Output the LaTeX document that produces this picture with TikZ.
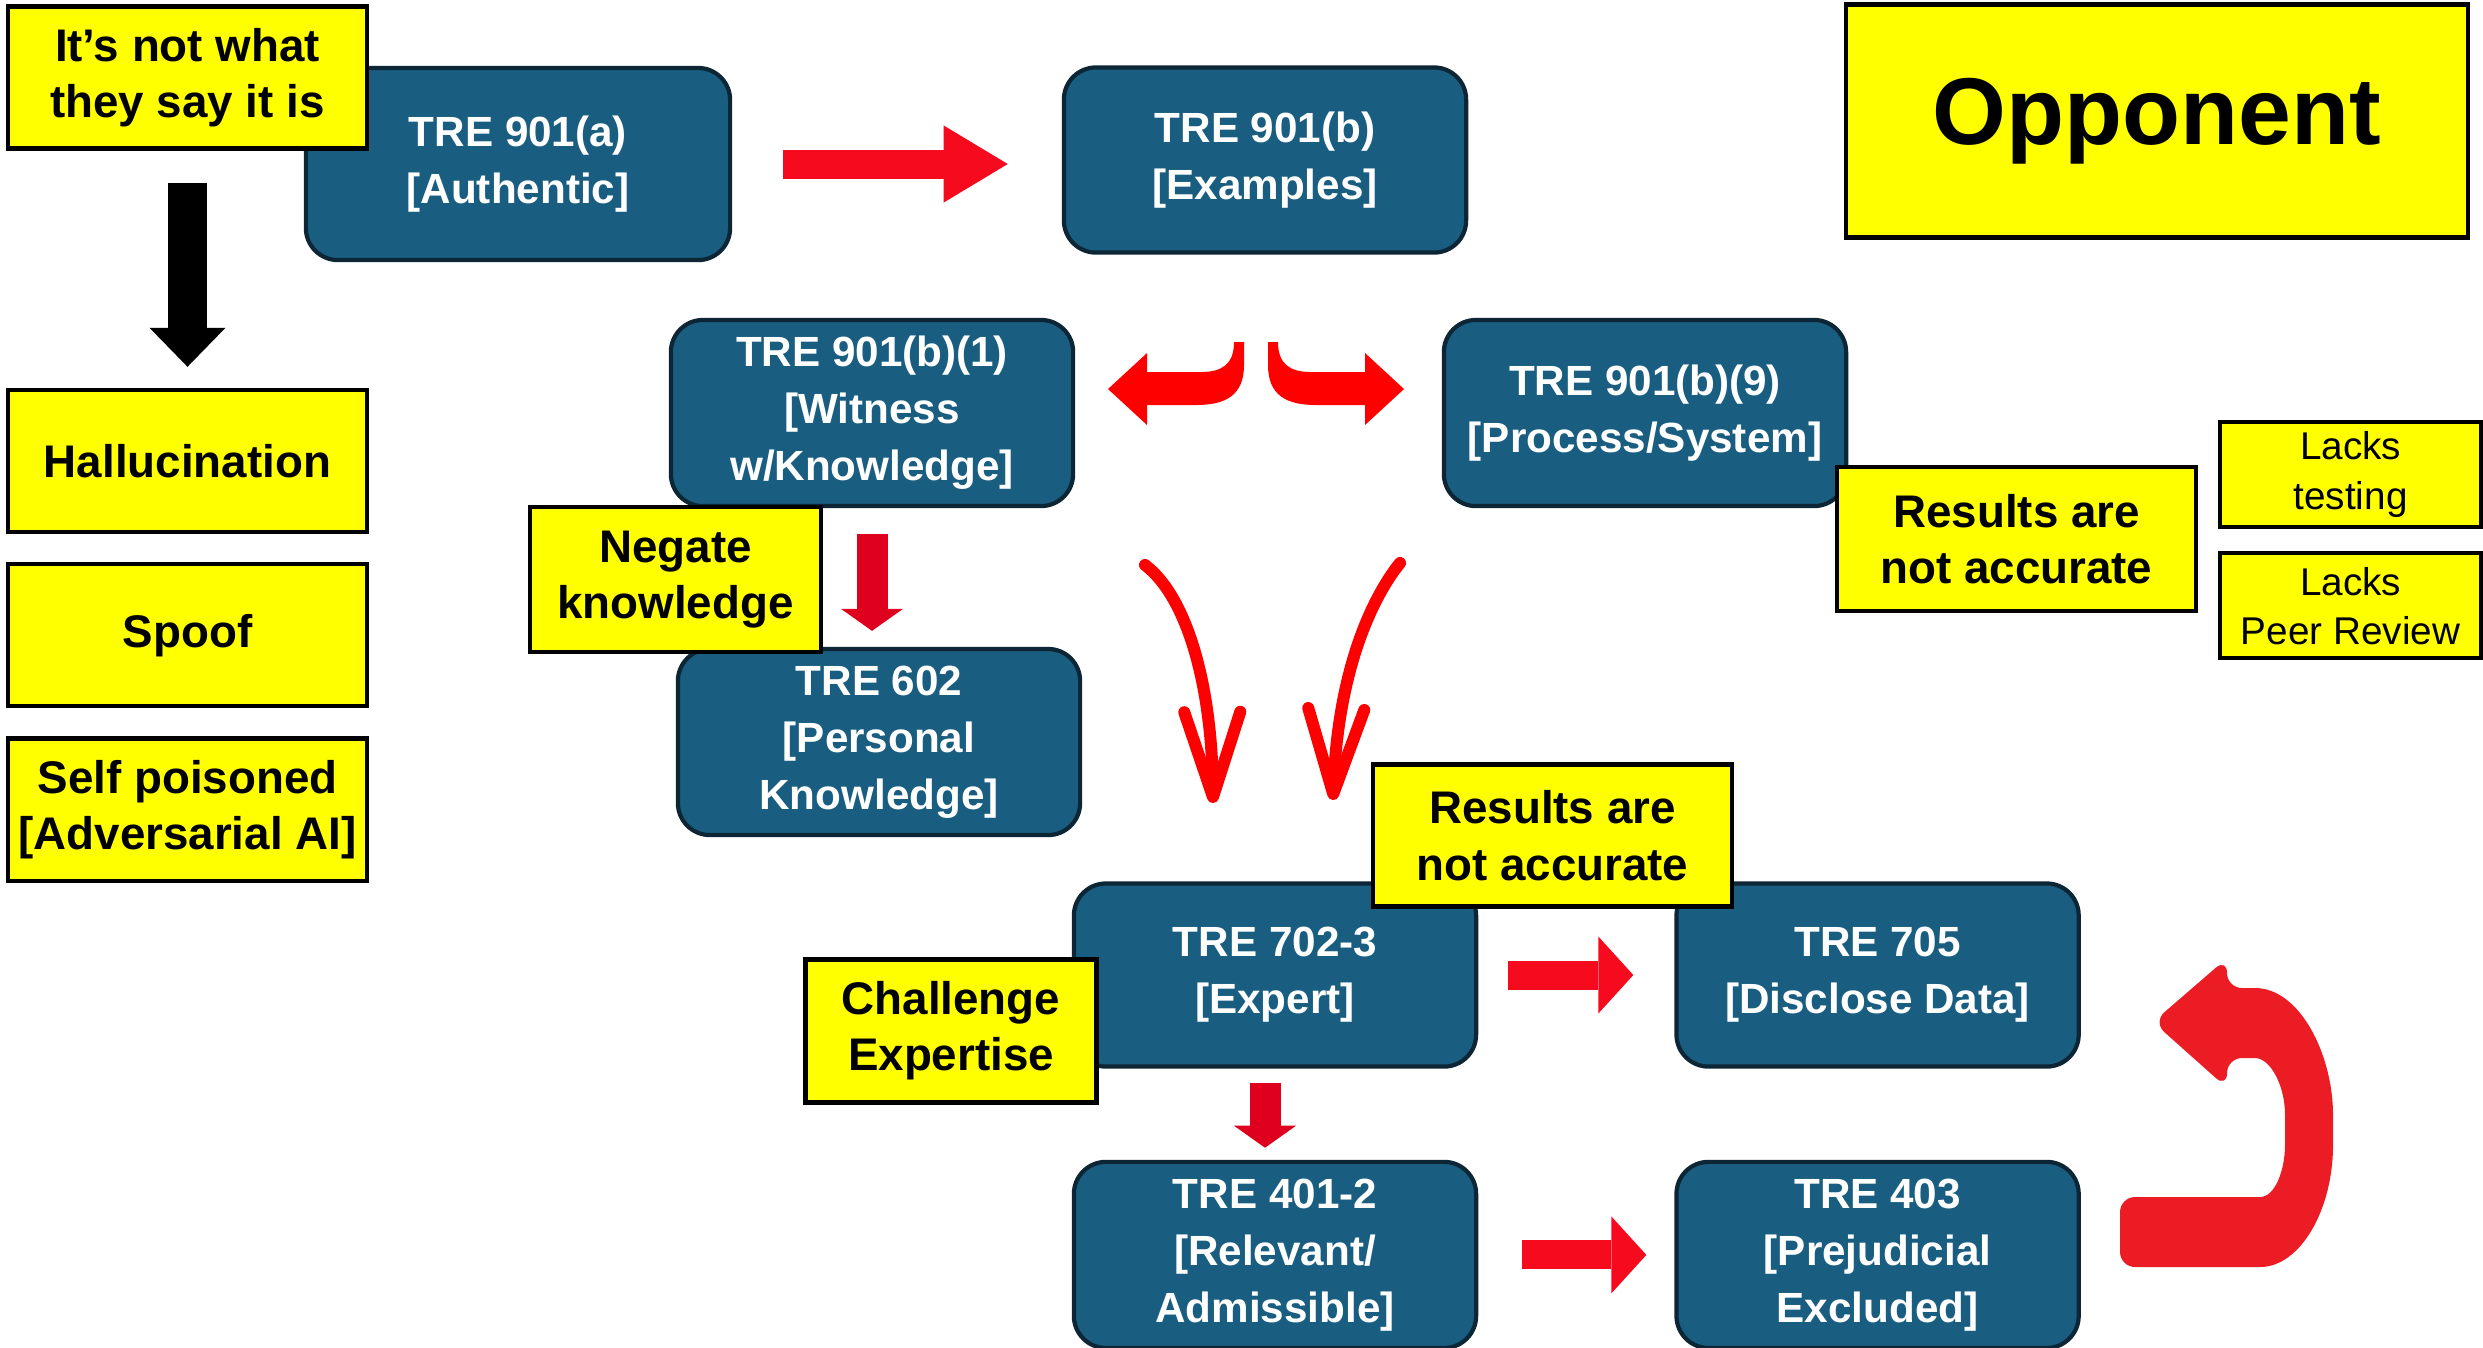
\documentclass[tikz,border=0pt]{standalone}
\usepackage{fontspec}
\setmainfont{Liberation Sans}
\usetikzlibrary{positioning,arrows.meta}
\definecolor{boxblue}{RGB}{25,94,128}
\definecolor{boxedge}{RGB}{12,38,54}
\definecolor{signyellow}{RGB}{255,255,0}
\definecolor{flowred}{RGB}{245,10,30}
\definecolor{dropred}{RGB}{222,0,28}
\definecolor{turnred}{RGB}{236,28,36}
\tikzset{
  trebox/.style={draw=boxedge, fill=boxblue, rounded corners=3.2mm, line width=1.2pt,
                 text=white, align=center, font=\bfseries\fontsize{12}{16.2}\selectfont,
                 minimum width=4.02cm, minimum height=1.86cm, inner sep=2pt},
  yellowbox/.style={draw=black, fill=signyellow, line width=1.2pt, align=center,
                    font=\bfseries\fontsize{13}{16}\selectfont,
                    minimum width=3.59cm, minimum height=1.42cm, inner sep=1pt},
  smallyellow/.style={yellowbox, font=\fontsize{11}{14}\selectfont,
                      minimum width=2.61cm, minimum height=1.05cm},
  flowarrow/.style={draw=flowred, line width=2.9mm,
                    -{Triangle[length=#1, width=7.7mm, line width=0pt]}},
  flowarrow/.default=3.5mm,
  dropflow/.style={draw=dropred, line width=3.1mm,
                   -{Triangle[length=2.2mm, width=6.2mm, line width=0pt]}},
  blackdrop/.style={draw=black, line width=3.8mm,
                    -{Triangle[length=3.9mm, width=7.6mm, line width=0pt]}},
  handarrow/.style={draw=red, line width=1.2mm, line cap=round,
                    -{Straight Barb[length=8.5mm, width=5.6mm, round]}},
}
\begin{document}
\begin{tikzpicture}[x=0.01cm, y=-0.01cm, node distance=2.8mm]
  \useasboundingbox (0,0) rectangle (2483,1347);
  % rule boxes
  \node[trebox, minimum width=4.24cm, minimum height=1.92cm] (a901) at (518,164) {TRE 901(a)\\{}[Authentic]};
  \node[trebox, minimum height=1.85cm] (b901) at (1265,160) {TRE 901(b)\\{}[Examples]};
  \node[trebox] (b1) at (872,413) {TRE 901(b)(1)\\{}[Witness\\w/Knowledge]};
  \node[trebox] (b9) at (1645,413) {TRE 901(b)(9)\\{}[Process/System]};
  \node[trebox] (p602) at (879,742) {TRE 602\\{}[Personal\\Knowledge]};
  \node[trebox, minimum height=1.83cm] (e702) at (1275,975) {TRE 702-3\\{}[Expert]};
  \node[trebox, minimum height=1.83cm, right=1.96cm of e702] (d705) {TRE 705\\{}[Disclose Data]};
  \node[trebox, below=0.91cm of e702] (r401) {TRE 401-2\\{}[Relevant/\\Admissible]};
  \node[trebox, right=1.96cm of r401] (x403) {TRE 403\\{}[Prejudicial\\Excluded]};

  % yellow notes
  \node[yellowbox] (notwhat) at (187.5,77.5) {It’s not what\\they say it is};
  \node[yellowbox, below=2.37cm of notwhat] (halluc) {Hallucination};
  \node[yellowbox, below=of halluc] (spoof) {Spoof};
  \node[yellowbox, below=of spoof] (selfp) {Self poisoned\\{}[Adversarial AI]};
  \node[yellowbox, minimum width=2.91cm, minimum height=1.45cm] (negate) at (675.5,579.5) {Negate\\knowledge};
  \node[yellowbox, minimum width=6.22cm, minimum height=2.33cm,
        font=\bfseries\fontsize{27}{32}\selectfont] (opp) at (2157,121) {Opponent};
  \node[yellowbox, minimum height=1.44cm] (resR) at (2016.5,539) {Results are\\not accurate};
  \node[smallyellow] (lackT) at (2350.5,474.5) {Lacks\\testing};
  \node[smallyellow, below=2.2mm of lackT] (lackP) {Lacks\\Peer Review};
  \node[yellowbox] (resM) at (1552.5,835.5) {Results are\\not accurate};
  \node[yellowbox, minimum width=2.91cm, minimum height=1.43cm] (challenge) at (951,1031) {Challenge\\Expertise};

  % straight arrows
  \draw[blackdrop, shorten <=3.2mm, shorten >=2.1mm] (notwhat) -- (halluc);
  \draw[flowarrow=6.4mm, shorten <=5.1mm, shorten >=5.4mm] (a901) -- (a901 -| b901.west);
  \draw[dropflow, shorten <=2.6mm, shorten >=1.6mm] (b1) -- (b1.south |- p602.north);
  \draw[flowarrow, shorten <=3mm, shorten >=4.1mm] (e702) -- (d705);
  \draw[dropflow, shorten <=1.4mm, shorten >=1.2mm] ([xshift=-1mm]e702.south) -- ([xshift=-1mm]r401.north);
  \draw[flowarrow, shorten <=4.4mm, shorten >=2.8mm] (r401) -- (x403);

  % split arrows under 901(b)
  \foreach \s in {1,-1}
    \fill[red, shift={(1256,0)}, xscale=\s] (-12,342) -- (-12,365)
      .. controls (-12,395) and (-30,405) .. (-60,405) -- (-109,405) -- (-109,425)
      -- (-148,389) -- (-109,353) -- (-109,372) -- (-55,372)
      .. controls (-35,372) and (-22,365) .. (-22,342) -- cycle;

  % hand drawn arrows to 702-3
  \coordinate (lstart) at (1145,565);
  \coordinate (ltip) at (1213,803);
  \coordinate (rstart) at (1400,563);
  \coordinate (rtip) at (1333,800);
  \draw[handarrow] (lstart) .. controls (1185,595) and (1212,680) .. (ltip);
  \draw[handarrow] (rstart) .. controls (1378,590) and (1338,660) .. (rtip);

  % u-turn
  \fill[turnred, rounded corners=1.5mm] (2120,1197) -- (2245,1197)
    .. controls (2275,1197) and (2285,1170) .. (2285,1130)
    .. controls (2285,1085) and (2270,1058) .. (2240,1058) -- (2227,1058) -- (2227,1088)
    -- (2153,1022) -- (2227,958) -- (2227,988) -- (2240,988)
    .. controls (2300,988) and (2333,1055) .. (2333,1130)
    .. controls (2333,1210) and (2300,1267) .. (2245,1267) -- (2120,1267) -- cycle;
\end{tikzpicture}
\end{document}
